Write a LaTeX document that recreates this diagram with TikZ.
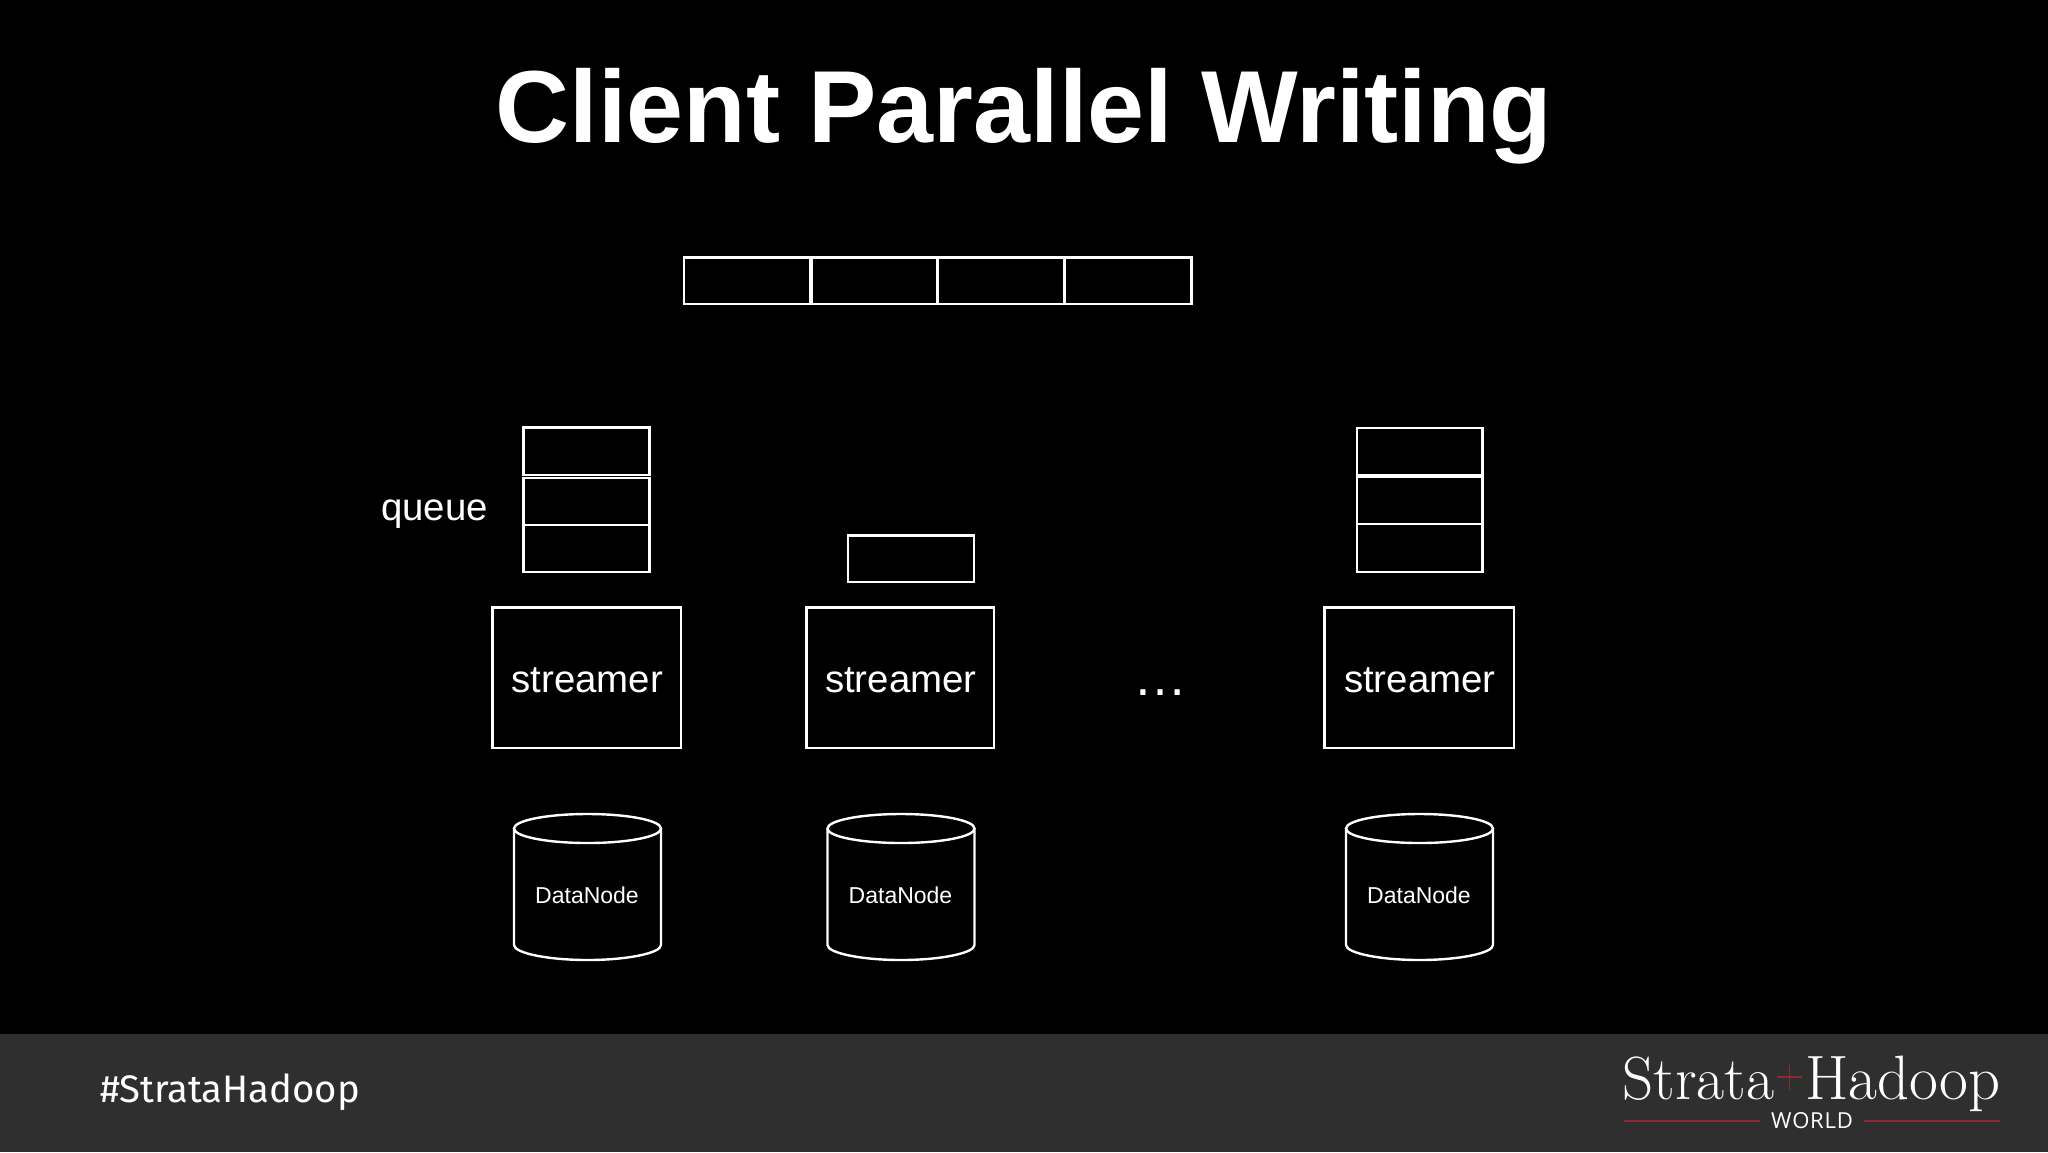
\documentclass[tikz,border=0pt]{standalone}
\usepackage{fontspec}
\usepackage{graphicx}
\setmainfont{Liberation Sans}
\newfontfamily\tagfont{Fira Sans}
\newfontfamily\worldfont{Open Sans}
\newfontfamily\logofont{Latin Modern Roman}
\definecolor{bandgray}{HTML}{2F2F2F}
\definecolor{logored}{HTML}{8E2A33}
\newcommand{\fitw}[2]{\resizebox{#1pt}{!}{#2}}
\tikzset{
  x=0.5pt,y=-0.5pt,
  line/.style={draw=white,line width=1.2pt},
  lab/.style={text=white,inner sep=0pt,outer sep=0pt},
  stream/.style={lab,font=\fontsize{19.2}{22}\selectfont},
  dn/.style={lab,font=\fontsize{11.5}{14}\selectfont},
  redline/.style={draw=logored,line width=0.7pt},
}
\begin{document}
\begin{tikzpicture}
\useasboundingbox (0,0) rectangle (2048,1152);
\fill[black] (0,0) rectangle (2048,1152);
\fill[bandgray] (0,1033.5) rectangle (2048,1152);
\node[lab,font=\bfseries\fontsize{51.2}{60}\selectfont,anchor=base] (title) at (1024,142) {Client Parallel Writing};
% top row
\foreach \a/\b in {684/810.5,811.5/937.5,937.5/1064.5,1064.5/1191.5}
  \draw[line] (\a,257.5) rectangle (\b,304);
% queues
\foreach \t/\u in {427.5/475,478/525,525/572}
  \draw[line] (523.5,\t) rectangle (649.5,\u);
\draw[line] (848,535.5) rectangle (974,582);
\foreach \t/\u in {428/475.5,477/524,524/572}
  \draw[line] (1357,\t) rectangle (1482.5,\u);
\node[stream,anchor=base] (queue) at (434.5,520.5) {queue};
% streamers
\foreach \n/\a/\b in {s1/492.5/681,s2/806.5/994,s3/1324.5/1514}{
  \draw[line] (\a,607.5) rectangle (\b,748);
  \node[stream,anchor=base] (\n) at ({(\a+\b)/2+0.5},692) {streamer};
}
\node[stream,anchor=base,font=\fontsize{27}{30}\selectfont] (dots) at (1160,695) {…};
% cylinders
\foreach \n/\c in {d1/587.5,d2/901,d3/1419.5}{
  \draw[line] ({\c-73.5},828.5) -- ({\c-73.5},945)
     .. controls ({\c-73.5},953) and ({\c-40},960) .. (\c,960)
     .. controls ({\c+40},960) and ({\c+73.5},953) .. ({\c+73.5},945) -- ({\c+73.5},828.5);
  \draw[line] (\c,828.5) ellipse [x radius=73.5,y radius=14.5];
  \node[dn,anchor=base] (\n) at ({\c-0.5},903) {DataNode};
}
% footer
\node[lab,anchor=base west] (tag) at (100,1102) {\fitw{130}{\tagfont\fontsize{20}{24}\selectfont\#StrataHadoop}};
\node[lab,anchor=base west] (strata) at (1622.5,1099) {\fitw{76}{\logofont\fontsize{30.7}{34}\selectfont Strata}};
\node[lab,anchor=base west] (hadoop) at (1805,1099) {\fitw{97.8}{\logofont\fontsize{30.7}{34}\selectfont Hadoop}};
\draw[logored,line width=0.8pt] (1777,1077) -- (1802,1077) (1789.5,1065) -- (1789.5,1090);
\node[lab] (world) at (1812,1121) {\fitw{41}{\worldfont\fontsize{11}{13}\selectfont W\kern0.4pt O\kern0.4pt R\kern0.4pt L\kern0.4pt D}};
\coordinate (l1a) at (1624,1121); \coordinate (l1b) at (1760,1121);
\coordinate (l2a) at (1864,1121); \coordinate (l2b) at (2000,1121);
\draw[redline] (l1a) -- (l1b);
\draw[redline] (l2a) -- (l2b);
\end{tikzpicture}
\end{document}
